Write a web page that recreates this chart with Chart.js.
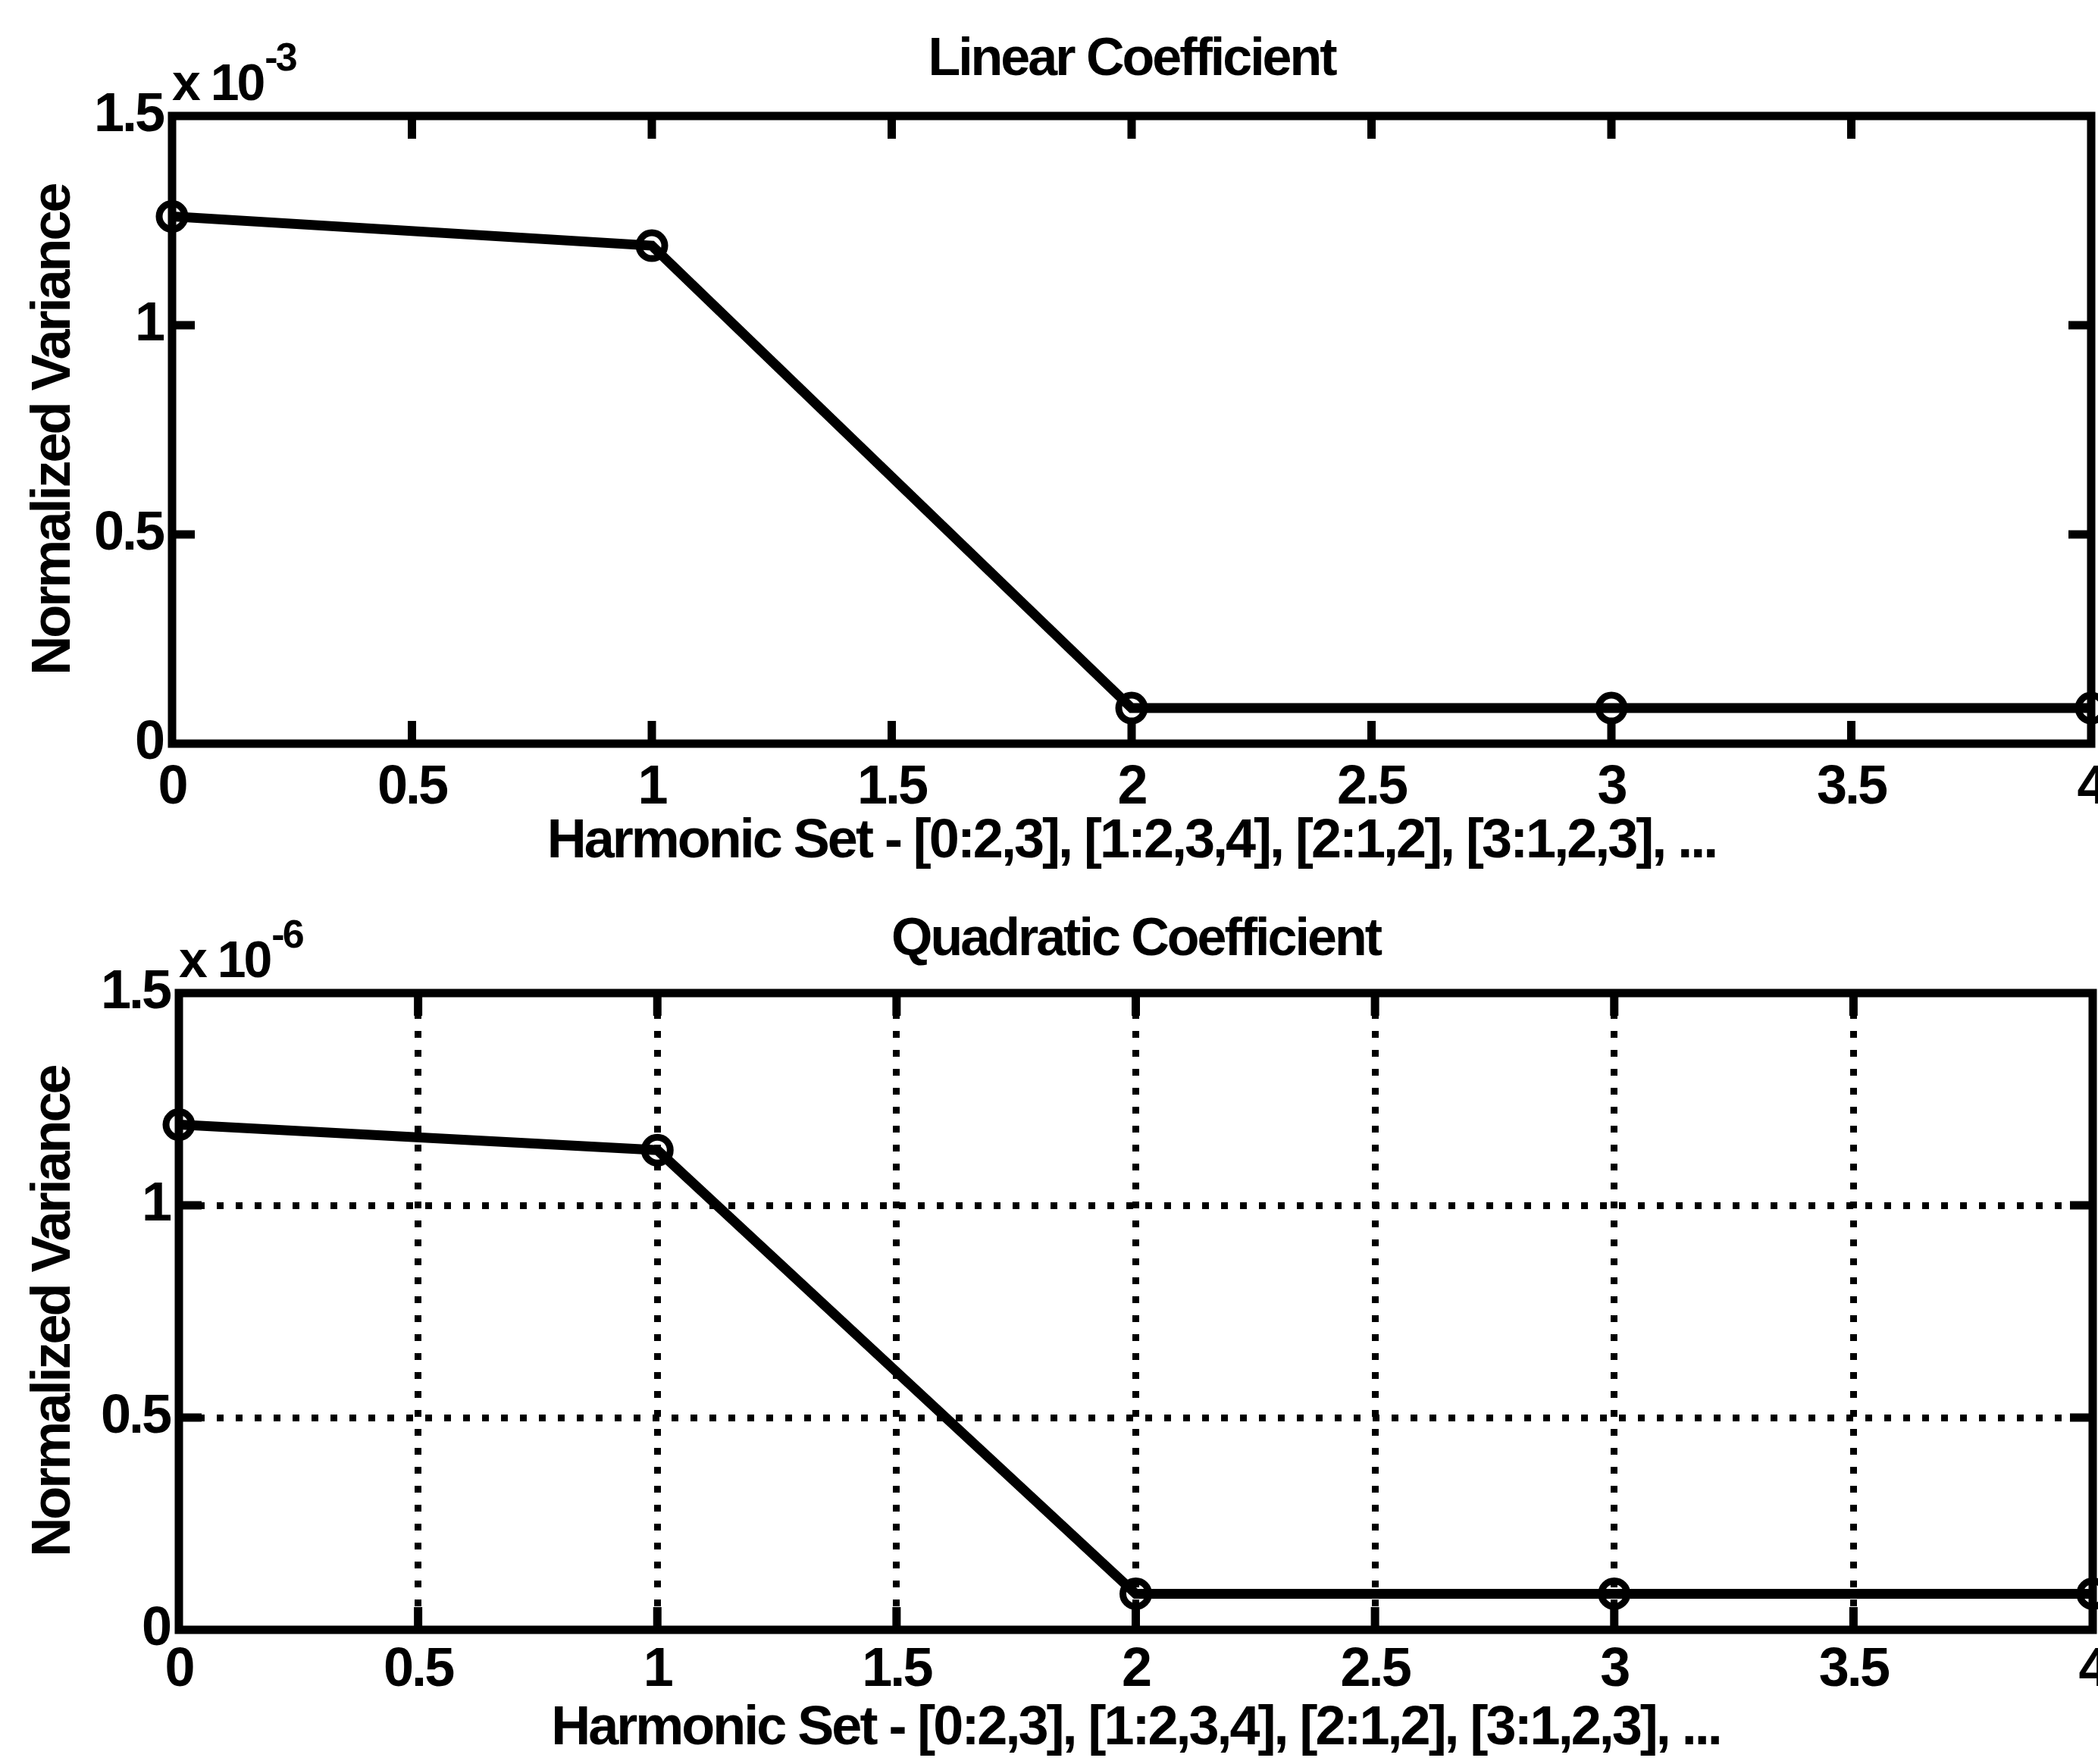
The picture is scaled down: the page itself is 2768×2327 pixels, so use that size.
<!DOCTYPE html>
<html lang="en">
<head>
<meta charset="UTF-8">
<title>Normalized Variance</title>
<script src="https://cdn.jsdelivr.net/npm/chart.js"></script>
<style>
  body { margin: 0; background: #fff; }
  .panel { position: absolute; left: 0; }
</style>
</head>
<body>
<canvas id="linear" class="panel" width="2768" height="1160" style="top:0"></canvas>
<canvas id="quadratic" class="panel" width="2768" height="1167" style="top:1160px"></canvas>
<script>
// harmonic sets on the x axis, variances in units of the axis exponent
const harmonicSet = [0, 1, 2, 3, 4];
const linearVariance = [1.26, 1.19, 0.085, 0.085, 0.085];    // x 10^-3
const quadraticVariance = [1.19, 1.13, 0.085, 0.085, 0.085]; // x 10^-6
const xTicks = [0, 0.5, 1, 1.5, 2, 2.5, 3, 3.5, 4];
const yTicks = [0, 0.5, 1, 1.5];
const xLabel = 'Harmonic Set - [0:2,3], [1:2,3,4], [2:1,2], [3:1,2,3], ...';
const yLabel = 'Normalized Variance';

const FONT = "'Liberation Sans', Arial, sans-serif";
const SPACING = '-3px';

// tight letter spacing for every text drawn on the canvas
const tightText = {
  id: 'tightText',
  beforeLayout(chart) { chart.ctx.letterSpacing = SPACING; },
  beforeDraw(chart) { chart.ctx.letterSpacing = SPACING; }
};

// box around the plot, inward tick marks and the "x 10^n" factor
function boxPlugin(exp) {
  return {
    id: 'matlabBox',
    beforeDatasetsDraw(chart) {
      const { ctx, chartArea: a, scales: { x, y } } = chart;
      ctx.save();
      ctx.strokeStyle = '#000';
      ctx.lineWidth = 11;
      ctx.beginPath();
      xTicks.slice(1, -1).forEach(v => {
        const px = x.getPixelForValue(v);
        ctx.moveTo(px, a.bottom); ctx.lineTo(px, a.bottom - 30);
        ctx.moveTo(px, a.top); ctx.lineTo(px, a.top + 30);
      });
      yTicks.slice(1, -1).forEach(v => {
        const py = y.getPixelForValue(v);
        ctx.moveTo(a.left, py); ctx.lineTo(a.left + 30, py);
        ctx.moveTo(a.right, py); ctx.lineTo(a.right - 30, py);
      });
      ctx.stroke();
      ctx.strokeRect(a.left, a.top, a.right - a.left, a.bottom - a.top);

      ctx.fillStyle = '#000';
      ctx.textAlign = 'left';
      ctx.textBaseline = 'alphabetic';
      ctx.letterSpacing = SPACING;
      ctx.font = 'bold 68px ' + FONT;
      ctx.fillText('x 10', a.left, a.top - 21);
      const w = ctx.measureText('x 10').width;
      ctx.font = 'bold 52px ' + FONT;
      ctx.fillText('-' + exp, a.left + w + 2, a.top - 60);
      ctx.restore();
    }
  };
}

function makePanel(id, title, values, exp, box, opts) {
  const canvas = document.getElementById(id);
  const H = canvas.height;
  const font = { family: FONT, size: 72, weight: 'bold', lineHeight: 1 };
  return new Chart(canvas, {
    type: 'line',
    data: {
      datasets: [{
        data: harmonicSet.map((x, i) => ({ x: x, y: values[i] })),
        borderColor: '#000',
        borderWidth: 13,
        tension: 0,
        pointRadius: 17,
        pointBorderWidth: 9,
        pointBorderColor: '#000',
        pointBackgroundColor: 'rgba(0,0,0,0)',
        clip: false
      }]
    },
    options: {
      responsive: false,
      animation: false,
      layout: {
        autoPadding: false,
        padding: { left: 0, right: canvas.width - box.right, top: 0, bottom: 0 }
      },
      plugins: {
        legend: { display: false },
        tooltip: { enabled: false },
        title: {
          display: true,
          text: title,
          fullSize: false,
          color: '#000',
          font: { family: FONT, size: 70, weight: 'bold', lineHeight: 1 },
          padding: { top: opts.titleTop, bottom: box.top - opts.titleTop - 70 }
        }
      },
      scales: {
        x: {
          type: 'linear',
          min: 0,
          max: 4,
          afterBuildTicks: s => { s.ticks = xTicks.map(v => ({ value: v })); },
          afterFit: s => {
            s.height = H - box.bottom;
            // the end labels may hang over the edges, as in the print
            s.paddingLeft = 0;
            s.paddingRight = 0;
          },
          grid: { display: opts.grid, drawTicks: false, color: '#000', lineWidth: 9 },
          border: { display: false, dash: [9, 16] },
          ticks: { color: '#000', font: font, padding: opts.xTickPad, maxRotation: 0, autoSkip: false,
                   callback: v => String(v) },
          title: { display: true, text: xLabel, color: '#000', font: font, padding: { top: 0, bottom: opts.xTitlePad } }
        },
        y: {
          type: 'linear',
          min: 0,
          max: 1.5,
          afterBuildTicks: s => { s.ticks = yTicks.map(v => ({ value: v })); },
          afterFit: s => {
            s.width = box.left;
            s.paddingTop = 0;
            s.paddingBottom = 0;
          },
          grid: { display: opts.grid, drawTicks: false, color: '#000', lineWidth: 9 },
          border: { display: false, dash: [9, 16] },
          ticks: { color: '#000', font: font, padding: 12, callback: v => String(v) },
          title: { display: true, text: yLabel, color: '#000', font: font, padding: { top: 36, bottom: 0 } }
        }
      }
    },
    plugins: [tightText, boxPlugin(exp)]
  });
}

makePanel('linear', 'Linear Coefficient', linearVariance, 3,
  { left: 227, right: 2759, top: 153, bottom: 981 },
  { grid: false, titleTop: 45, xTickPad: 23, xTitlePad: 13 });

makePanel('quadratic', 'Quadratic Coefficient', quadraticVariance, 6,
  { left: 236, right: 2761, top: 150, bottom: 990 },
  { grid: true, titleTop: 46, xTickPad: 18, xTitlePad: 10 });
</script>
</body>
</html>
